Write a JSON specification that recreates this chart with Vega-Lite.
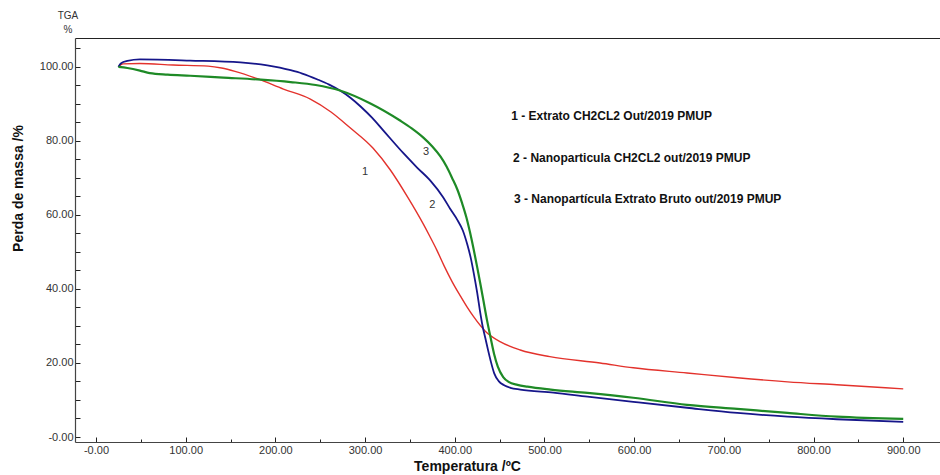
{
  "$schema": "https://vega.github.io/schema/vega-lite/v6.json",
  "width": 865,
  "height": 404,
  "autosize": {"type": "none"},
  "padding": {"left": 75, "top": 38, "right": 0, "bottom": 33},
  "background": "white",
  "config": {"view": {"stroke": null}, "font": "Liberation Sans"},
  "title": {"text": ["TGA", "%"], "anchor": "start", "frame": "group", "align": "center", "dx": -7, "offset": 3, "fontSize": 10, "fontWeight": "normal", "lineHeight": 14, "color": "#333", "font": "Liberation Sans"},
  "datasets": {
    "curves": [
      {"s": "1", "T": 25, "m": 100.0}, {"s": "1", "T": 30, "m": 100.8}, {"s": "1", "T": 49, "m": 100.9}, {"s": "1", "T": 86, "m": 100.5}, {"s": "1", "T": 125, "m": 100.2}, {"s": "1", "T": 140, "m": 99.7}, {"s": "1", "T": 155, "m": 98.8}, {"s": "1", "T": 180, "m": 96.8}, {"s": "1", "T": 209, "m": 94.0}, {"s": "1", "T": 239, "m": 91.3}, {"s": "1", "T": 262, "m": 87.8}, {"s": "1", "T": 283, "m": 83.6}, {"s": "1", "T": 309, "m": 78.0}, {"s": "1", "T": 328, "m": 72.2}, {"s": "1", "T": 348, "m": 64.6}, {"s": "1", "T": 365, "m": 57.5}, {"s": "1", "T": 372, "m": 54.3}, {"s": "1", "T": 380, "m": 50.5}, {"s": "1", "T": 388, "m": 46.3}, {"s": "1", "T": 397, "m": 42.0}, {"s": "1", "T": 406, "m": 38.2}, {"s": "1", "T": 414, "m": 35.0}, {"s": "1", "T": 421, "m": 32.5}, {"s": "1", "T": 434, "m": 28.6}, {"s": "1", "T": 451, "m": 25.7}, {"s": "1", "T": 473, "m": 23.5}, {"s": "1", "T": 506, "m": 21.7}, {"s": "1", "T": 562, "m": 20.0}, {"s": "1", "T": 599, "m": 18.7}, {"s": "1", "T": 659, "m": 17.3}, {"s": "1", "T": 715, "m": 16.0}, {"s": "1", "T": 771, "m": 14.9}, {"s": "1", "T": 826, "m": 14.1}, {"s": "1", "T": 900, "m": 13.0},
      {"s": "2", "T": 25, "m": 100.0}, {"s": "2", "T": 28, "m": 101.0}, {"s": "2", "T": 35, "m": 101.6}, {"s": "2", "T": 49, "m": 102.0}, {"s": "2", "T": 105, "m": 101.7}, {"s": "2", "T": 161, "m": 101.2}, {"s": "2", "T": 191, "m": 100.4}, {"s": "2", "T": 205, "m": 99.8}, {"s": "2", "T": 217, "m": 99.1}, {"s": "2", "T": 230, "m": 98.2}, {"s": "2", "T": 247, "m": 96.6}, {"s": "2", "T": 260, "m": 95.2}, {"s": "2", "T": 272, "m": 93.6}, {"s": "2", "T": 284, "m": 91.6}, {"s": "2", "T": 295, "m": 89.3}, {"s": "2", "T": 308, "m": 86.2}, {"s": "2", "T": 320, "m": 82.9}, {"s": "2", "T": 343, "m": 76.6}, {"s": "2", "T": 358, "m": 72.8}, {"s": "2", "T": 373, "m": 69.2}, {"s": "2", "T": 387, "m": 64.8}, {"s": "2", "T": 395, "m": 61.6}, {"s": "2", "T": 403, "m": 58.6}, {"s": "2", "T": 409, "m": 55.8}, {"s": "2", "T": 414, "m": 52.0}, {"s": "2", "T": 418, "m": 48.2}, {"s": "2", "T": 421, "m": 44.5}, {"s": "2", "T": 425, "m": 39.0}, {"s": "2", "T": 428, "m": 34.2}, {"s": "2", "T": 431, "m": 30.0}, {"s": "2", "T": 434, "m": 26.8}, {"s": "2", "T": 437, "m": 23.6}, {"s": "2", "T": 440, "m": 20.6}, {"s": "2", "T": 444, "m": 17.2}, {"s": "2", "T": 449, "m": 15.1}, {"s": "2", "T": 455, "m": 14.0}, {"s": "2", "T": 462, "m": 13.3}, {"s": "2", "T": 473, "m": 12.8}, {"s": "2", "T": 510, "m": 12.0}, {"s": "2", "T": 548, "m": 10.9}, {"s": "2", "T": 599, "m": 9.5}, {"s": "2", "T": 659, "m": 7.9}, {"s": "2", "T": 715, "m": 6.5}, {"s": "2", "T": 771, "m": 5.5}, {"s": "2", "T": 826, "m": 4.8}, {"s": "2", "T": 900, "m": 4.1},
      {"s": "3", "T": 25, "m": 100.0}, {"s": "3", "T": 35, "m": 99.7}, {"s": "3", "T": 49, "m": 99.0}, {"s": "3", "T": 60, "m": 98.3}, {"s": "3", "T": 80, "m": 97.9}, {"s": "3", "T": 105, "m": 97.6}, {"s": "3", "T": 142, "m": 97.1}, {"s": "3", "T": 180, "m": 96.6}, {"s": "3", "T": 217, "m": 95.9}, {"s": "3", "T": 245, "m": 95.1}, {"s": "3", "T": 272, "m": 93.6}, {"s": "3", "T": 306, "m": 90.1}, {"s": "3", "T": 339, "m": 85.5}, {"s": "3", "T": 352, "m": 83.4}, {"s": "3", "T": 365, "m": 80.9}, {"s": "3", "T": 375, "m": 78.5}, {"s": "3", "T": 384, "m": 75.8}, {"s": "3", "T": 391, "m": 73.0}, {"s": "3", "T": 397, "m": 70.0}, {"s": "3", "T": 403, "m": 66.8}, {"s": "3", "T": 408, "m": 63.3}, {"s": "3", "T": 413, "m": 59.3}, {"s": "3", "T": 417, "m": 55.3}, {"s": "3", "T": 421, "m": 50.8}, {"s": "3", "T": 425, "m": 45.9}, {"s": "3", "T": 429, "m": 40.8}, {"s": "3", "T": 432, "m": 36.8}, {"s": "3", "T": 436, "m": 31.5}, {"s": "3", "T": 440, "m": 26.8}, {"s": "3", "T": 444, "m": 22.3}, {"s": "3", "T": 448, "m": 19.0}, {"s": "3", "T": 454, "m": 16.2}, {"s": "3", "T": 460, "m": 14.9}, {"s": "3", "T": 470, "m": 14.1}, {"s": "3", "T": 481, "m": 13.6}, {"s": "3", "T": 507, "m": 12.8}, {"s": "3", "T": 548, "m": 11.9}, {"s": "3", "T": 599, "m": 10.6}, {"s": "3", "T": 659, "m": 8.7}, {"s": "3", "T": 715, "m": 7.6}, {"s": "3", "T": 771, "m": 6.5}, {"s": "3", "T": 826, "m": 5.5}, {"s": "3", "T": 900, "m": 4.9}
    ],
    "curveLabels": [
      {"T": 300, "m": 71.5, "label": "1"},
      {"T": 375, "m": 62.6, "label": "2"},
      {"T": 368, "m": 77.0, "label": "3"}
    ],
    "legendText": [
      {"T": 463, "m": 86.6, "label": "1 - Extrato CH2CL2 Out/2019 PMUP"},
      {"T": 465, "m": 75.3, "label": "2 - Nanoparticula CH2CL2 out/2019 PMUP"},
      {"T": 466, "m": 64.2, "label": "3 - Nanopartícula Extrato Bruto out/2019 PMUP"}
    ]
  },
  "resolve": {"axis": {"x": "independent", "y": "independent"}},
  "layer": [
    {
      "data": {"name": "curves"},
      "mark": {"type": "line", "interpolate": "monotone"},
      "encoding": {
        "x": {
          "field": "T", "type": "quantitative",
          "scale": {"domain": [-23.4, 941], "nice": false, "zero": false},
          "axis": {
            "orient": "bottom",
            "values": [0, 50, 100, 150, 200, 250, 300, 350, 400, 450, 500, 550, 600, 650, 700, 750, 800, 850, 900],
            "labelExpr": "datum.value % 100 === 0 ? (datum.value === 0 ? '-0.00' : format(datum.value, '.2f')) : ''",
            "ticks": true,
            "tickSize": {"condition": {"test": "datum.value % 100 === 0", "value": -5}, "value": -3},
            "tickColor": "#222", "tickWidth": 1, "domainColor": "#444", "domainWidth": 1.2,
            "labelPadding": 7, "labelFontSize": 11, "labelColor": "#333", "labelFont": "Liberation Sans",
            "labelOverlap": false, "labelFlush": false, "grid": false,
            "title": "Temperatura /ºC", "titleFontSize": 14, "titleFontWeight": "bold", "titleColor": "#111", "titleFont": "Liberation Sans",
            "titleX": 392, "titleY": 24, "titleBaseline": "middle", "titleAlign": "center"
          }
        },
        "y": {
          "field": "m", "type": "quantitative",
          "scale": {"domain": [-1.35, 107.8], "nice": false, "zero": false},
          "axis": {
            "orient": "left",
            "values": [0, 5, 10, 15, 20, 25, 30, 35, 40, 45, 50, 55, 60, 65, 70, 75, 80, 85, 90, 95, 100, 105],
            "labelExpr": "datum.value % 20 === 0 ? (datum.value === 0 ? '-0.00' : format(datum.value, '.2f')) : ''",
            "ticks": true,
            "tickSize": -5, "tickColor": "#222", "tickWidth": 1, "domainColor": "#444", "domainWidth": 1.2,
            "labelPadding": 7, "labelFontSize": 11, "labelColor": "#333", "labelFont": "Liberation Sans",
            "labelOverlap": false, "labelFlush": false, "grid": false,
            "title": "Perda de massa /%", "titleFontSize": 14, "titleFontWeight": "bold", "titleColor": "#111", "titleFont": "Liberation Sans",
            "titleX": -57, "titleY": 150, "titleBaseline": "middle", "titleAlign": "center", "titleAngle": -90
          }
        },
        "color": {"field": "s", "type": "nominal", "scale": {"domain": ["1", "2", "3"], "range": ["#e3322c", "#16168a", "#1e8a26"]}, "legend": null},
        "strokeWidth": {"field": "s", "type": "nominal", "scale": {"domain": ["1", "2", "3"], "range": [1.4, 2.2, 2.0]}, "legend": null}
      }
    },
    {
      "data": {"name": "curveLabels"},
      "mark": {"type": "text", "fontSize": 11, "color": "#333", "font": "Liberation Sans"},
      "encoding": {
        "x": {"field": "T", "type": "quantitative", "axis": {"orient": "top", "labels": false, "ticks": false, "domain": true, "domainColor": "#222", "domainWidth": 1, "grid": false, "title": null}},
        "y": {"field": "m", "type": "quantitative", "axis": null},
        "text": {"field": "label"}
      }
    },
    {
      "data": {"name": "legendText"},
      "mark": {"type": "text", "align": "left", "baseline": "middle", "fontSize": 12, "fontWeight": "bold", "color": "#111", "font": "Liberation Sans"},
      "encoding": {
        "x": {"field": "T", "type": "quantitative", "axis": null},
        "y": {"field": "m", "type": "quantitative", "axis": null},
        "text": {"field": "label"}
      }
    }
  ]
}
